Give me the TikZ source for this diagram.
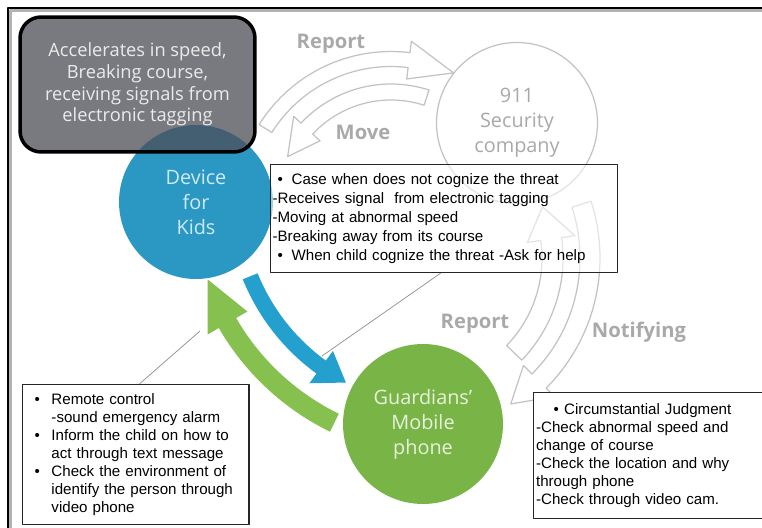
\documentclass[tikz,border=0pt]{standalone}
\usepackage{fontspec}
\setmainfont{Open Sans}
\newfontfamily\notefont{Liberation Sans}

\definecolor{kidblue}{HTML}{2A98C2}
\definecolor{kidtext}{HTML}{CFEAF4}
\definecolor{guardgreen}{HTML}{79B447}
\definecolor{guardtext}{HTML}{E8F2DC}
\definecolor{flowblue}{HTML}{24A0CF}
\definecolor{flowgreen}{HTML}{86C04E}
\definecolor{alertgray}{HTML}{4C4C56}
\definecolor{hollowgray}{HTML}{C2C2C2}
\definecolor{taggray}{HTML}{A9A9A9}

\begin{document}
\begin{tikzpicture}[x=0.02cm,y=0.02cm,line join=round,
  bubble/.style={circle,inner sep=0pt,minimum size=#1,align=center,
    font=\fontsize{11.3}{14.2}\selectfont},
  hollow/.style={draw=hollowgray,line width=0.7pt},
  tag/.style={text=taggray,font=\fontsize{11.5}{13}\selectfont\bfseries},
  note/.style={draw=black!85,line width=0.7pt,fill=white,anchor=north west,
    align=left,inner ysep=0pt,font=\notefont\fontsize{8.6}{10.3}\selectfont},
  leader/.style={draw=black!45,line width=0.4pt}]

  % A helper that draws a thick curved arrow as one closed outline,
  % running along a circle round a given centre.
  \def\curvedArrow#1#2#3#4#5#6#7#8{
    % #1 = style, #2 = centre (a coordinate)
    % #3 = tail angle, #4 = angle of the head base, #5 = angle of the tip
    % #6 = radius, #7 = half shaft width, #8 = half head width
    \pgfmathsetmacro\rOut{#6+#7}\pgfmathsetmacro\rIn{#6-#7}
    \pgfmathsetmacro\hOut{#6+#8}\pgfmathsetmacro\hIn{#6-#8}
    \path[#1] ([shift={(#3:\rOut)}]#2) arc[start angle=#3,end angle=#4,radius=\rOut]
      -- ([shift={(#4:\hOut)}]#2) -- ([shift={(#5:#6)}]#2)
      -- ([shift={(#4:\hIn)}]#2) -- ([shift={(#4:\rIn)}]#2)
      arc[start angle=#4,end angle=#3,radius=\rIn] -- cycle;
  }

  \useasboundingbox (0,0) rectangle (762,-528);

  % outer frame, cut off at the right and at the bottom
  \draw[black!30,line width=1.4pt] (10.5,-10.5) rectangle (800,-560);
  \draw[line width=1.6pt] (8,-8) rectangle (800,-560);

  % centres of the arcs
  \coordinate (upperArc) at (391,-207);
  \coordinate (rightArc) at (416,-258);
  \coordinate (loopArc) at (444,-198);

  % Report / Move between the device and the security company
  \curvedArrow{hollow}{upperArc}{148}{83}{65}{148}{7.5}{19}
  \curvedArrow{hollow}{upperArc}{72}{137}{154}{115}{8}{18}

  \node[bubble=3.22cm,draw=hollowgray,line width=0.7pt,fill=white,text=taggray]
    (security) at (517,-123) {911\\Security\\company};
  \node[bubble=3.08cm,fill=kidblue,text=kidtext] (device) at (196,-202) {Device\\for\\Kids};

  \node[draw,line width=2pt,rounded corners=12pt,fill=alertgray,fill opacity=0.75,
    text opacity=1,text=black!8,align=center,minimum width=4.7cm,minimum height=2.7cm,
    font=\fontsize{10.4}{12.3}\selectfont]
    (alert) at (137.5,-84.5) {Accelerates in speed,\\Breaking course,\\receiving signals from\\electronic tagging};

  % the two solid arrows between the kid and the guardian
  \curvedArrow{fill=flowblue}{loopArc}{202}{234}{242}{209}{8}{20}
  \curvedArrow{fill=flowgreen}{loopArc}{244}{210}{199}{250}{10}{23}
  \coordinate (blueTouch) at (322,-356);
  \coordinate (greenTouch) at (200,-331);

  \node[bubble=3.2cm,fill=guardgreen,text=guardtext] (guardian) at (423,-424) {Guardians'\\Mobile\\phone};

  % Report / Notifying between the security company and the guardian
  \curvedArrow{hollow}{rightArc}{-44}{8}{22}{136.5}{10.5}{24}
  \curvedArrow{hollow}{rightArc}{18}{-45}{-57}{174}{10}{22}

  \node[note,text width=6.86cm,inner xsep=0.04cm,minimum height=2.16cm,fill opacity=0.55,
    text opacity=1,font=\notefont\fontsize{8.6}{10.8}\selectfont] (threat) at (270,-164)
    {\hspace*{2.8pt}\textbullet\hspace{5pt}Case when does not cognize the threat\\
     -Receives signal\ \ from electronic tagging\\
     -Moving at abnormal speed\\
     -Breaking away from its course\\
     \hspace*{2.8pt}\textbullet\hspace{5pt}When child cognize the threat -Ask for help};

  \node[note,text width=4.05cm,inner xsep=0.24cm,minimum height=2.8cm] (remote) at (22,-384)
    {\makebox[9.6pt][l]{\textbullet}Remote control\\
     \hspace*{9.6pt}-sound emergency alarm\\
     \makebox[9.6pt][l]{\textbullet}Inform the child on how to\\
     \hspace*{9.6pt}act through text message\\
     \makebox[9.6pt][l]{\textbullet}Check the environment of\\
     \hspace*{9.6pt}identify the person through\\
     \hspace*{9.6pt}video phone};

  \node[note,text width=4.7cm,inner xsep=0.05cm,minimum height=2.52cm] (judge) at (533,-392)
    {\hspace*{10pt}\textbullet\hspace{3pt}Circumstantial Judgment\\
     -Check abnormal speed and\\
     change of course\\
     -Check the location and why\\
     through phone\\
     -Check through video cam.};

  % leader lines from the notes to the arrows
  \draw[leader] ([xshift=-0.07cm]threat.south) -- (blueTouch);
  \draw[leader] ([xshift=0.07cm]remote.north) -- (greenTouch);

  % arrow labels
  \node[tag] (reportUp) at (331,-44) {Report};
  \node[tag] (move) at (363,-132) {Move};
  \node[tag] (reportSide) at (475,-324) {Report};
  \node[tag] (notify) at (639,-332) {Notifying};
\end{tikzpicture}
\end{document}
